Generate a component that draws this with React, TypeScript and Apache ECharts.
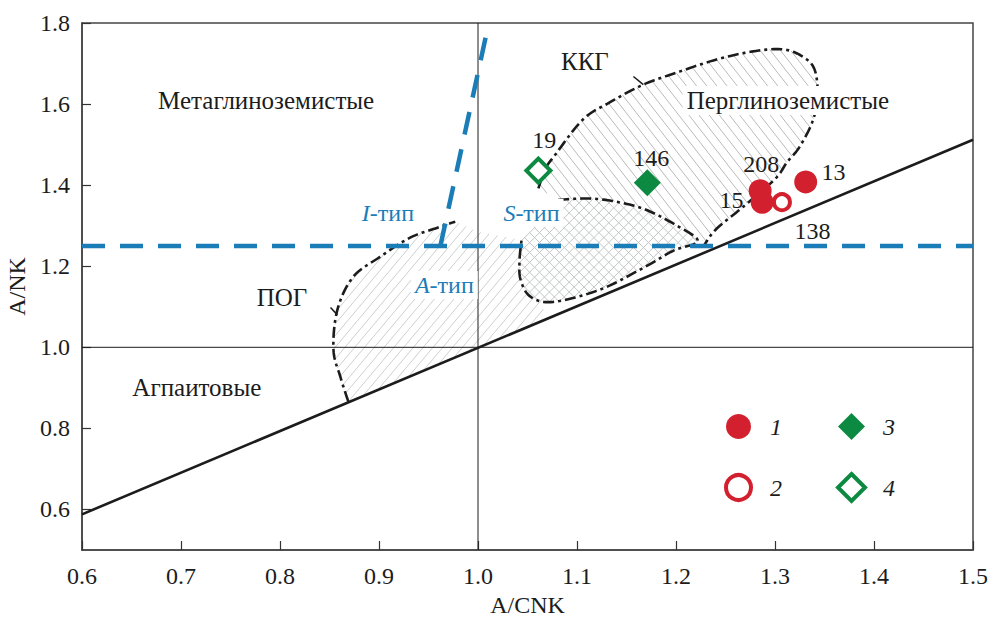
import React, { useEffect, useRef } from 'react';
import * as echarts from 'echarts';

// ---------- data ----------
const yTickValues = [0.6, 0.8, 1.0, 1.2, 1.4, 1.6, 1.8];

// sample points (A/CNK, A/NK)
const type1Points = [[1.285, 1.386], [1.287, 1.358], [1.331, 1.408]]; // 208, 15, 13
const type2Points = [[1.307, 1.358]]; // 138
const type3Points = [[1.171, 1.406]]; // 146
const type4Points = [[1.061, 1.436]]; // 19

// reference lines
const diagonalLine = [[0.6, 0.588], [1.5, 1.512]];
const verticalRef = [[1.0, 0.5], [1.0, 1.8]];
const horizontalRef = [[0.6, 1.0], [1.5, 1.0]];
const typeLineH = [[0.6, 1.25], [1.5, 1.25]];
const typeLineS = [[0.962, 1.25], [1.01, 1.79]];

// field boundaries
const pogCurve = [
  [0.869, 0.866], [0.861, 0.927], [0.854, 0.994], [0.858, 1.093], [0.874, 1.174],
  [0.901, 1.223], [0.931, 1.270], [0.959, 1.295], [0.977, 1.310],
];
const kkgCurve = [
  [1.061, 1.392], [1.068, 1.440], [1.078, 1.475], [1.106, 1.562], [1.133, 1.604],
  [1.167, 1.648], [1.201, 1.678], [1.241, 1.710], [1.278, 1.730], [1.308, 1.735],
  [1.328, 1.717], [1.340, 1.685], [1.343, 1.620], [1.338, 1.558], [1.325, 1.495],
  [1.312, 1.456], [1.300, 1.415], [1.268, 1.347], [1.240, 1.290], [1.228, 1.250],
];
const innerCurve = [
  [1.081, 1.364], [1.113, 1.367], [1.140, 1.359], [1.169, 1.340], [1.201, 1.300],
  [1.222, 1.262], [1.197, 1.238], [1.167, 1.196], [1.123, 1.142], [1.076, 1.112],
  [1.053, 1.125], [1.043, 1.167], [1.042, 1.216], [1.044, 1.265],
];
const pogHatchTail = [
  [1.0, 1.285], [1.044, 1.265], [1.042, 1.216], [1.043, 1.167], [1.053, 1.125],
  [1.066, 1.112], [1.066, 1.068],
];
const kkgHatchTail = [
  [1.201, 1.300], [1.169, 1.340], [1.140, 1.359], [1.113, 1.367], [1.081, 1.364],
];
const leaderKKG = [[1.157, 1.668], [1.167, 1.648]];
const leaderPOG = [[0.851, 1.098], [0.858, 1.080]];

// annotations: [text, x, y]
const fieldNames: [string, number, number][] = [
  ['Метаглиноземистые', 0.786, 1.609],
  ['Перглиноземистые', 1.313, 1.609],
  ['Агпаитовые', 0.716, 0.900],
  ['ККГ', 1.108, 1.705],
  ['ПОГ', 0.802, 1.122],
];
const typeNames: [string, string, number, number][] = [
  ['I', '-тип', 0.909, 1.332],
  ['S', '-тип', 1.054, 1.332],
  ['A', '-тип', 0.966, 1.154],
];
const sampleNames: [string, number, number][] = [
  ['19', 1.067, 1.512],
  ['146', 1.175, 1.468],
  ['208', 1.286, 1.451],
  ['13', 1.359, 1.433],
  ['15', 1.256, 1.364],
  ['138', 1.338, 1.288],
];

// ---------- helpers ----------
const SERIF = 'Liberation Serif, Times New Roman, serif';
const RED = '#d3202e';
const GREEN = '#0d8a42';
const BLUE = '#1b7db7';
const INK = '#1c1c1c';

function catmull(pts: number[][], segs = 12): number[][] {
  if (pts.length < 3) return pts.slice();
  const out: number[][] = [];
  for (let i = 0; i < pts.length - 1; i++) {
    const p0 = pts[Math.max(i - 1, 0)], p1 = pts[i], p2 = pts[i + 1], p3 = pts[Math.min(i + 2, pts.length - 1)];
    for (let s = 0; s < segs; s++) {
      const t = s / segs, t2 = t * t, t3 = t2 * t;
      const f = (k: number) => 0.5 * (2 * p1[k] + (-p0[k] + p2[k]) * t + (2 * p0[k] - 5 * p1[k] + 4 * p2[k] - p3[k]) * t2 + (-p0[k] + 3 * p1[k] - 3 * p2[k] + p3[k]) * t3);
      out.push([f(0), f(1)]);
    }
  }
  out.push(pts[pts.length - 1]);
  return out;
}

function hatch(poly: number[][], angleDeg: number, spacing: number): number[][] {
  const a = (angleDeg * Math.PI) / 180;
  const dx = Math.cos(a), dy = -Math.sin(a);
  const nx = -dy, ny = dx;
  const s = poly.map((p) => p[0] * nx + p[1] * ny);
  const mn = Math.min(...s), mx = Math.max(...s);
  const segs: number[][] = [];
  for (let c = Math.ceil(mn / spacing) * spacing; c <= mx; c += spacing) {
    const hits: { u: number; x: number; y: number }[] = [];
    for (let i = 0; i < poly.length; i++) {
      const j = (i + 1) % poly.length;
      const si = s[i], sj = s[j];
      if ((si < c && sj >= c) || (sj < c && si >= c)) {
        const t = (c - si) / (sj - si);
        const x = poly[i][0] + t * (poly[j][0] - poly[i][0]);
        const y = poly[i][1] + t * (poly[j][1] - poly[i][1]);
        hits.push({ u: x * dx + y * dy, x, y });
      }
    }
    hits.sort((p, q) => p.u - q.u);
    for (let k = 0; k + 1 < hits.length; k += 2) segs.push([hits[k].x, hits[k].y, hits[k + 1].x, hits[k + 1].y]);
  }
  return segs;
}

function hatchSeries(getPoly: (api: any) => number[][], dirs: { angle: number; spacing: number; color: string }[], z: number) {
  return {
    type: 'custom',
    silent: true,
    z,
    data: [[1, 1]],
    renderItem: (_p: any, api: any) => {
      const poly = getPoly(api);
      const children: any[] = [];
      dirs.forEach((d) => {
        hatch(poly, d.angle, d.spacing).forEach((sg) => {
          children.push({ type: 'line', shape: { x1: sg[0], y1: sg[1], x2: sg[2], y2: sg[3] }, style: { stroke: d.color, lineWidth: 1 } });
        });
      });
      return { type: 'group', children };
    },
  };
}

function curveSeries(curve: number[][], z: number) {
  return {
    type: 'custom',
    silent: true,
    z,
    data: [[1, 1]],
    renderItem: (_p: any, api: any) => {
      const px = catmull(curve.map((p) => api.coord(p)));
      return {
        type: 'polyline',
        shape: { points: px },
        style: { stroke: INK, lineWidth: 2.6, fill: 'none', lineDash: [11, 4, 3, 4] },
      };
    },
  };
}

function lineSeries(pts: number[][], color: string, width: number, type: any, z: number) {
  return {
    type: 'line',
    data: pts,
    symbol: 'none',
    silent: true,
    z,
    lineStyle: { color, width, type },
  };
}

function textSeries(items: any[], z: number) {
  return {
    type: 'custom',
    silent: true,
    z,
    data: items.map((it) => [it.x, it.y]),
    renderItem: (p: any, api: any) => {
      const it = items[p.dataIndex];
      const [x, y] = api.coord([api.value(0), api.value(1)]);
      return {
        type: 'text',
        x,
        y,
        style: {
          text: it.text,
          rich: it.rich,
          fontFamily: SERIF,
          fontSize: it.size,
          fill: it.color,
          align: 'center',
          verticalAlign: 'middle',
          backgroundColor: it.bg,
          padding: it.bg ? [2, 4] : 0,
        },
      };
    },
  };
}

export default function App() {
  const ref = useRef<HTMLDivElement>(null);
  useEffect(() => {
    if (!ref.current) return;
    const chart = echarts.init(ref.current, null, { renderer: 'svg' });

    const pogPoly = (api: any) => [
      ...catmull(pogCurve.map((p) => api.coord(p))),
      ...pogHatchTail.map((p) => api.coord(p)),
    ];
    const kkgPoly = (api: any) => [
      ...catmull(kkgCurve.map((p) => api.coord(p))),
      ...kkgHatchTail.map((p) => api.coord(p)),
    ];
    const innerPoly = (api: any) => catmull(innerCurve.map((p) => api.coord(p)));

    const labelItems = [
      ...fieldNames.map(([text, x, y]) => ({ text, x, y, size: 25, color: INK, bg: text === 'Перглиноземистые' ? '#fff' : undefined })),
      ...typeNames.map(([l, rest, x, y]) => ({
        text: `{i|${l}}${rest}`, x, y, size: 24, color: BLUE,
        bg: l === 'I' ? undefined : '#fff',
        rich: { i: { fontStyle: 'italic', fontFamily: SERIF, fontSize: 24, fill: BLUE } },
      })),
      ...sampleNames.map(([text, x, y]) => ({ text, x, y, size: 24, color: INK })),
    ];

    const axisText = { fontFamily: SERIF, fontSize: 24, color: INK };

    chart.setOption({
      animation: false,
      grid: {
        left: 82, right: 17, top: 23, bottom: 67, show: true, borderColor: '#444', borderWidth: 1.5,
        containLabel: false, outerBoundsMode: 'none',
      },
      xAxis: {
        type: 'value', min: 0.6, max: 1.5, interval: 0.1,
        name: 'A/CNK', nameLocation: 'middle', nameGap: 42,
        nameTextStyle: axisText,
        axisLine: { show: true, lineStyle: { color: '#444', width: 1.5 } },
        axisTick: { show: true, inside: true, length: 9, lineStyle: { color: '#333', width: 1.2 } },
        axisLabel: { ...axisText, margin: 14, formatter: (v: number) => v.toFixed(1) },
        splitLine: { show: false },
      },
      yAxis: {
        type: 'value', min: 0.5, max: 1.8,
        name: 'A/NK', nameLocation: 'middle', nameGap: 52,
        nameTextStyle: axisText,
        axisLine: { show: true, lineStyle: { color: '#444', width: 1.5 } },
        axisTick: { show: true, inside: true, length: 9, customValues: yTickValues, lineStyle: { color: '#333', width: 1.2 } },
        axisLabel: { ...axisText, margin: 12, customValues: yTickValues, formatter: (v: number) => v.toFixed(1) },
        splitLine: { show: false },
      },
      legend: [
        {
          data: [{ name: '1' }, { name: '2', itemStyle: { borderWidth: 4 } }],
          orient: 'vertical', left: 724, top: 414, padding: 0,
          itemWidth: 25, itemHeight: 25, itemGap: 34, selectedMode: false,
          textStyle: { fontFamily: SERIF, fontStyle: 'italic', fontSize: 24, color: INK, padding: [0, 0, 0, 14] },
        },
        {
          data: [{ name: '3' }, { name: '4', itemStyle: { borderWidth: 4 } }],
          orient: 'vertical', left: 836, top: 413, padding: 0,
          itemWidth: 27, itemHeight: 27, itemGap: 32, selectedMode: false,
          textStyle: { fontFamily: SERIF, fontStyle: 'italic', fontSize: 24, color: INK, padding: [0, 0, 0, 13] },
        },
      ],
      series: [
        hatchSeries(pogPoly, [{ angle: 50, spacing: 7.5, color: '#cdd0d0' }], 1),
        hatchSeries(kkgPoly, [{ angle: -52, spacing: 8, color: '#b9bcbc' }], 1),
        hatchSeries(innerPoly, [{ angle: 45, spacing: 7, color: '#c3c6c6' }, { angle: -45, spacing: 7, color: '#c3c6c6' }], 1),
        lineSeries(verticalRef, INK, 1, 'solid', 2),
        lineSeries(horizontalRef, INK, 1, 'solid', 2),
        lineSeries(diagonalLine, INK, 2.6, 'solid', 3),
        lineSeries(leaderKKG, INK, 1.5, 'solid', 3),
        lineSeries(leaderPOG, INK, 1.5, 'solid', 3),
        curveSeries(pogCurve, 3),
        curveSeries(kkgCurve, 3),
        curveSeries(innerCurve, 3),
        lineSeries(typeLineH, BLUE, 4.5, [23, 15], 4),
        lineSeries(typeLineS, BLUE, 4.5, [23, 15], 4),
        textSeries(labelItems, 6),
        {
          name: '1', type: 'scatter', data: type1Points, symbol: 'circle', symbolSize: 23, z: 7, silent: true,
          itemStyle: { color: RED, opacity: 1 },
        },
        {
          name: '2', type: 'scatter', data: type2Points, symbol: 'circle', symbolSize: 16, z: 7, silent: true,
          itemStyle: { color: '#fff', borderColor: RED, borderWidth: 4, opacity: 1 },
        },
        {
          name: '3', type: 'scatter', data: type3Points, symbol: 'diamond', symbolSize: 27, z: 7, silent: true,
          itemStyle: { color: GREEN, opacity: 1 },
        },
        {
          name: '4', type: 'scatter', data: type4Points, symbol: 'diamond', symbolSize: 24, z: 7, silent: true,
          itemStyle: { color: '#fff', borderColor: GREEN, borderWidth: 4, opacity: 1 },
        },
      ],
    });
    return () => chart.dispose();
  }, []);
  return <div ref={ref} style={{ position: 'absolute', left: 0, top: 0, width: 990, height: 617 }} />;
}
